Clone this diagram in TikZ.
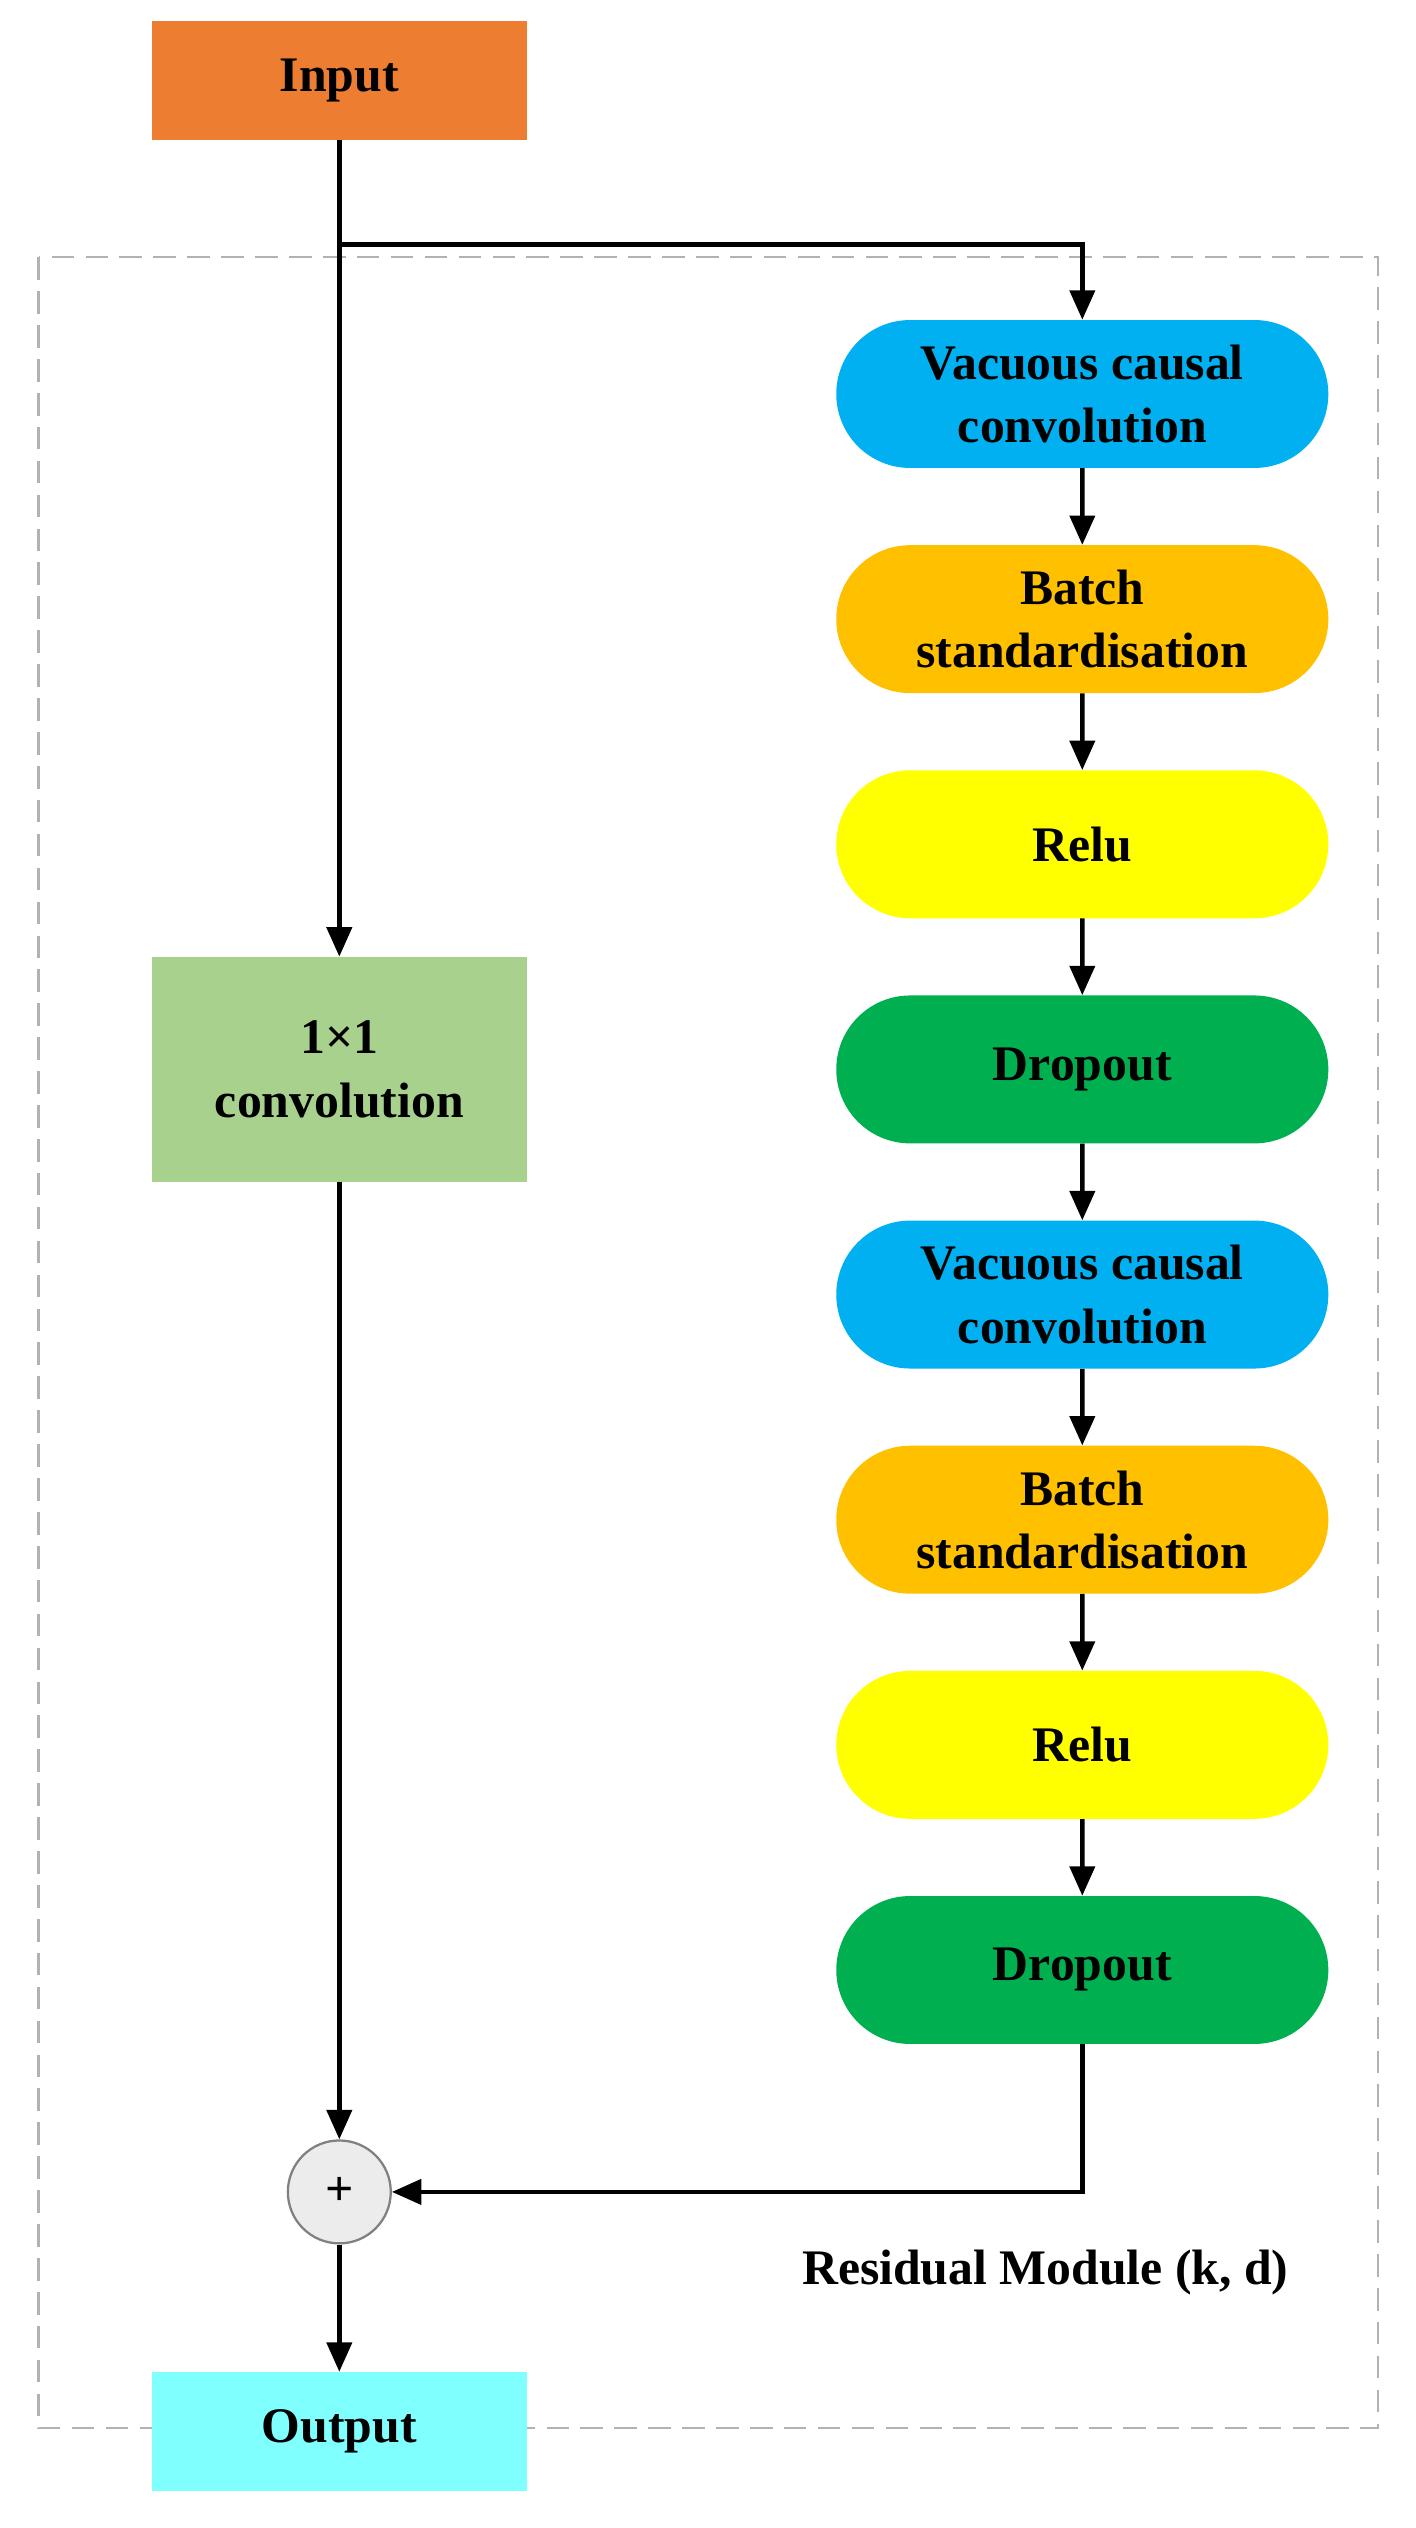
\documentclass[tikz,border=0pt]{standalone}
\usepackage{fontspec}
\setmainfont{Liberation Serif}
\usetikzlibrary{arrows.meta,shapes.misc}
\definecolor{cinput}{HTML}{ED7D31}
\definecolor{cblue}{HTML}{00B0F0}
\definecolor{corange}{HTML}{FFC000}
\definecolor{cyellow}{HTML}{FFFF00}
\definecolor{cgreen}{HTML}{00B050}
\definecolor{cconv}{HTML}{A9D18E}
\definecolor{cout}{HTML}{80FFFF}
\tikzset{
  txt/.style={font=\fontsize{44}{56}\selectfont\bfseries, align=center},
  box/.style={txt, rectangle, minimum width=11.65cm, minimum height=3.7cm, inner sep=0pt},
  pill/.style={txt, rounded rectangle, minimum width=15.3cm, minimum height=4.6cm, inner sep=0pt},
  arr/.style={line width=4pt, -{Triangle[length=26pt,width=22pt]}},
  ln/.style={line width=4pt}
}
\begin{document}
\begin{tikzpicture}[x=0.05cm,y=-0.05cm]
\useasboundingbox (0,0) rectangle (880,1572);
\draw[gray!60, dashed, line width=2pt, dash pattern=on 20pt off 10pt] (24,160) rectangle (857,1510);
\node[box, fill=cinput] (in) at (211,50) {Input};
\node[box, fill=cconv, minimum height=7cm] (conv) at (211,665) {1×1\\convolution};
\node[box, fill=cout] (out) at (211,1512) {Output};
\node[circle, draw=gray, line width=2pt, fill=gray!15, minimum size=3.2cm, inner sep=0pt, font=\fontsize{44}{44}\selectfont\bfseries] (sum) at (211,1363) {+};
\node[pill, fill=cblue] (p1) at (673,245) {Vacuous causal\\convolution};
\node[pill, fill=corange] (p2) at (673,385) {Batch\\standardisation};
\node[pill, fill=cyellow] (p3) at (673,525) {Relu};
\node[pill, fill=cgreen] (p4) at (673,665) {Dropout};
\node[pill, fill=cblue] (p5) at (673,805) {Vacuous causal\\convolution};
\node[pill, fill=corange] (p6) at (673,945) {Batch\\standardisation};
\node[pill, fill=cyellow] (p7) at (673,1085) {Relu};
\node[pill, fill=cgreen] (p8) at (673,1225) {Dropout};
\coordinate (br) at (211,152);
\draw[arr] (in) -- (conv);
\draw[arr] (br) -| (p1);
\foreach \a/\b in {p1/p2,p2/p3,p3/p4,p4/p5,p5/p6,p6/p7,p7/p8}
  \draw[arr] (\a) -- (\b);
\draw[arr] (conv) -- (sum);
\draw[arr] (p8) |- (sum);
\draw[arr] (sum) -- (out);
\node[txt, anchor=center] (lbl) at (650,1413) {Residual Module (k, d)};
\end{tikzpicture}
\end{document}
